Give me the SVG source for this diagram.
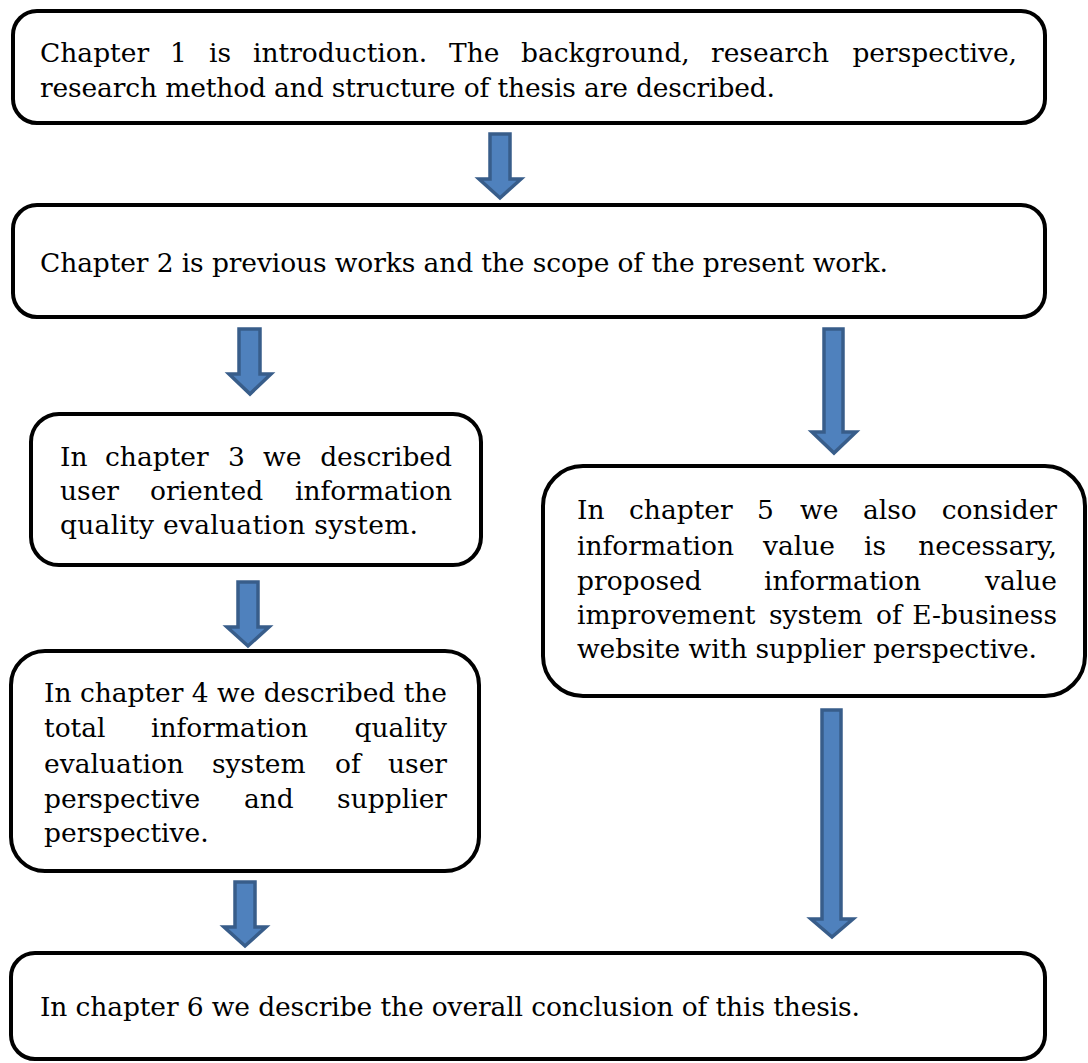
<svg xmlns="http://www.w3.org/2000/svg" width="1088" height="1063" viewBox="0 0 1088 1063">
<style>
.box{fill:#fff;stroke:#000;stroke-width:4}
.arr{fill:#4f81bd;stroke:#385d8a;stroke-width:3.5;stroke-linejoin:miter}
text{font-family:"DejaVu Serif","Liberation Serif",serif;font-size:26.5px;fill:#000}
.e{text-anchor:end}
</style>
<rect width="1088" height="1063" fill="#fff"/>
<g id="connectors">
<path class="arr" d="M490,134 H510 V179 H521 L500,198 L479,179 H490 Z"/>
<path class="arr" d="M239,329 H260 V374 H271 L250,394 L229,374 H239 Z"/>
<path class="arr" d="M824,329 H843 V432 H856 L834,453 L812,432 H824 Z"/>
<path class="arr" d="M238,582 H258 V627 H269 L248,646 L227,627 H238 Z"/>
<path class="arr" d="M235,882 H255 V927 H266 L245,946 L224,927 H235 Z"/>
<path class="arr" d="M822,710 H841 V919 H853 L832,937 L811,919 H822 Z"/>
</g>
<g id="node1">
<rect class="box" x="13" y="11" width="1032" height="112" rx="24"/>
<text y="62"><tspan x="40">Chapter</tspan><tspan x="170">1</tspan><tspan x="209">is</tspan><tspan x="253">introduction.</tspan><tspan x="449">The</tspan><tspan x="521">background,</tspan><tspan x="711">research</tspan></text>
<text class="e" x="1017" y="62">perspective,</text>
<text x="40" y="97" textLength="735" lengthAdjust="spacing">research method and structure of thesis are described.</text>
</g>
<g id="node2">
<rect class="box" x="13" y="205" width="1032" height="112" rx="24"/>
<text x="40" y="272" textLength="848" lengthAdjust="spacing">Chapter 2 is previous works and the scope of the present work.</text>
</g>
<g id="node3">
<rect class="box" x="31" y="414" width="450" height="151" rx="28"/>
<text y="466"><tspan x="60">In</tspan><tspan x="105">chapter</tspan><tspan x="228">3</tspan><tspan x="263">we</tspan></text>
<text class="e" x="452" y="466">described</text>
<text y="500"><tspan x="60">user</tspan><tspan x="150">oriented</tspan></text>
<text class="e" x="452" y="500">information</text>
<text x="60" y="534" textLength="358" lengthAdjust="spacing">quality evaluation system.</text>
</g>
<g id="node4">
<rect class="box" x="11" y="651" width="468" height="220" rx="34"/>
<text x="44" y="702" textLength="403" lengthAdjust="spacing">In chapter 4 we described the</text>
<text y="737"><tspan x="44">total</tspan><tspan x="151">information</tspan></text>
<text class="e" x="447" y="737">quality</text>
<text y="773"><tspan x="44">evaluation</tspan><tspan x="212">system</tspan><tspan x="335">of</tspan></text>
<text class="e" x="447" y="773">user</text>
<text y="808"><tspan x="44">perspective</tspan><tspan x="244">and</tspan></text>
<text class="e" x="447" y="808">supplier</text>
<text x="44" y="842">perspective.</text>
</g>
<g id="node5">
<rect class="box" x="543" y="466" width="542" height="230" rx="40"/>
<text y="519"><tspan x="577">In</tspan><tspan x="629">chapter</tspan><tspan x="757">5</tspan><tspan x="800">we</tspan><tspan x="863">also</tspan></text>
<text class="e" x="1057" y="519">consider</text>
<text y="555"><tspan x="577">information</tspan><tspan x="763">value</tspan><tspan x="864">is</tspan></text>
<text class="e" x="1057" y="555">necessary,</text>
<text y="590"><tspan x="577">proposed</tspan><tspan x="764">information</tspan></text>
<text class="e" x="1057" y="590">value</text>
<text y="624"><tspan x="577">improvement</tspan><tspan x="769">system</tspan><tspan x="876">of</tspan></text>
<text class="e" x="1057" y="624">E-business</text>
<text x="577" y="658" textLength="460" lengthAdjust="spacing">website with supplier perspective.</text>
</g>
<g id="node6">
<rect class="box" x="11" y="953" width="1034" height="106" rx="24"/>
<text x="40" y="1016" textLength="820" lengthAdjust="spacing">In chapter 6 we describe the overall conclusion of this thesis.</text>
</g>
</svg>
